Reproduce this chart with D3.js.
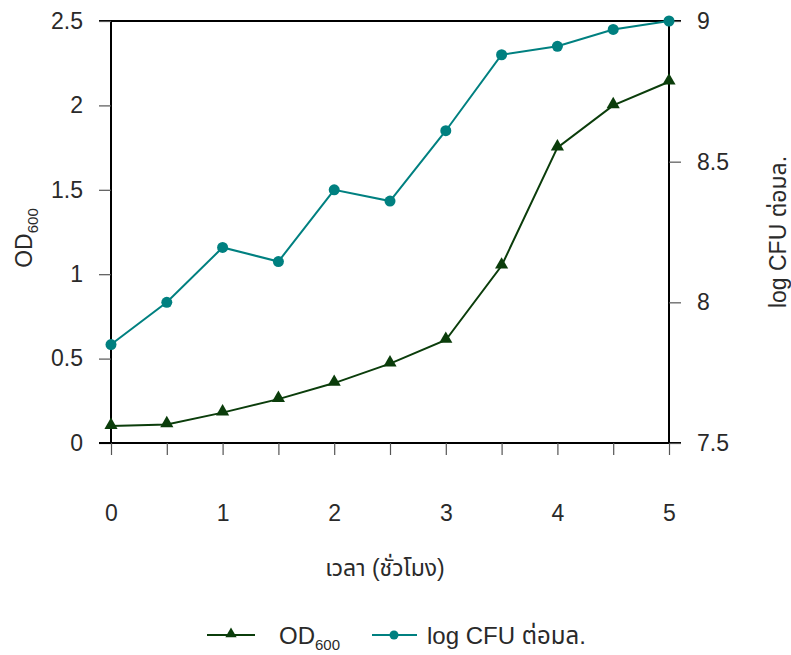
<!DOCTYPE html>
<html>
<head>
<meta charset="utf-8">
<script src="https://cdn.jsdelivr.net/npm/d3@7"></script>
<style>
  html, body { margin: 0; padding: 0; background: #fff; }
  svg text { font-family: "Liberation Sans", Arial, "Noto Sans", "Noto Sans Thai", sans-serif; fill: #2a2a2a; }
</style>
</head>
<body>
<svg id="chart" width="791" height="655"></svg>
<script>
// Data
const hours = [0, 0.5, 1, 1.5, 2, 2.5, 3, 3.5, 4, 4.5, 5];
const od600 = [0.10, 0.11, 0.18, 0.26, 0.355, 0.47, 0.61, 1.05, 1.75, 2.00, 2.14];
const logCFU = [7.85, 8.00, 8.195, 8.145, 8.40, 8.36, 8.61, 8.88, 8.91, 8.97, 9.00];
const xTickLabels = [0, 1, 2, 3, 4, 5];
const leftTicks = [0, 0.5, 1, 1.5, 2, 2.5];
const rightTicks = [7.5, 8, 8.5, 9];

const odColor = "#0b3d0b";
const cfuColor = "#008080";

const svg = d3.select("#chart");
const L = 111, R = 669, T = 21, B = 443;

const x = d3.scaleLinear().domain([0, 5]).range([L, R]);
const yL = d3.scaleLinear().domain([0, 2.5]).range([B, T]);
const yR = d3.scaleLinear().domain([7.5, 9]).range([B, T]);

// frame top
svg.append("line").attr("x1", L).attr("x2", R).attr("y1", T).attr("y2", T)
  .attr("stroke", "#000").attr("stroke-width", 2);

// left axis
const gL = svg.append("g").attr("transform", `translate(${L},0)`)
  .call(d3.axisLeft(yL).tickValues(leftTicks).tickSize(12).tickPadding(16)
    .tickFormat(d => d));
// right axis
const gR = svg.append("g").attr("transform", `translate(${R},0)`)
  .call(d3.axisRight(yR).tickValues(rightTicks).tickSize(12).tickPadding(16)
    .tickFormat(d => d));
// bottom axis
const gB = svg.append("g").attr("transform", `translate(0,${B})`)
  .call(d3.axisBottom(x).tickValues(hours).tickSize(12).tickPadding(50)
    .tickFormat(d => xTickLabels.includes(d) ? d : ""));

[gL, gR, gB].forEach(g => {
  g.attr("font-size", null).attr("font-family", null);
  g.select(".domain").attr("stroke", "#000").attr("stroke-width", 2);
  g.selectAll(".tick line").attr("stroke", "#555").attr("stroke-width", 1.2);
  g.selectAll(".tick text").style("font-size", "23px").style("fill", "#2a2a2a");
});
gL.select(".domain").attr("d", `M-12,${B}H0V${T}H-12`);
gR.select(".domain").attr("d", `M12,${B}H0V${T}H12`);
gB.select(".domain").attr("d", `M${L-12},0H${R}`);

// lines
const lineOD = d3.line().x((d, i) => x(hours[i])).y(d => yL(d));
const lineCFU = d3.line().x((d, i) => x(hours[i])).y(d => yR(d));

svg.append("path").datum(logCFU).attr("d", lineCFU)
  .attr("fill", "none").attr("stroke", cfuColor).attr("stroke-width", 2);
svg.append("path").datum(od600).attr("d", lineOD)
  .attr("fill", "none").attr("stroke", odColor).attr("stroke-width", 2);

const tri = d3.symbol().type(d3.symbolTriangle).size(75);
svg.selectAll(".cfu").data(logCFU).enter().append("circle")
  .attr("cx", (d, i) => x(hours[i])).attr("cy", d => yR(d)).attr("r", 5.5)
  .attr("fill", cfuColor);
svg.selectAll(".od").data(od600).enter().append("path")
  .attr("d", tri).attr("transform", (d, i) => `translate(${x(hours[i])},${yL(d) - 1})`)
  .attr("fill", odColor);

// axis titles
const odTitle = svg.append("text")
  .attr("transform", `translate(32,238) rotate(-90)`)
  .attr("text-anchor", "middle").style("font-size", "23px");
odTitle.append("tspan").text("OD");
odTitle.append("tspan").text("600").style("font-size", "15px").attr("dy", 6);

svg.append("text")
  .attr("transform", `translate(786,232) rotate(-90)`)
  .attr("text-anchor", "middle").style("font-size", "23px")
  .text("log CFU ต่อมล.");

svg.append("text").attr("x", 385).attr("y", 576).attr("text-anchor", "middle")
  .style("font-size", "23px").text("เวลา (ชั่วโมง)");

// legend
const ly = 635;
svg.append("line").attr("x1", 207).attr("x2", 255).attr("y1", ly).attr("y2", ly)
  .attr("stroke", odColor).attr("stroke-width", 2);
svg.append("path").attr("d", d3.symbol().type(d3.symbolTriangle).size(55))
  .attr("transform", `translate(231,${ly - 1})`).attr("fill", odColor);
const lt = svg.append("text").attr("x", 279).attr("y", ly + 9).style("font-size", "24px");
lt.append("tspan").text("OD");
lt.append("tspan").text("600").style("font-size", "15px").attr("dy", 6);

svg.append("line").attr("x1", 372).attr("x2", 417).attr("y1", ly).attr("y2", ly)
  .attr("stroke", cfuColor).attr("stroke-width", 2);
svg.append("circle").attr("cx", 394).attr("cy", ly).attr("r", 4.5).attr("fill", cfuColor);
svg.append("text").attr("x", 427).attr("y", ly + 9).style("font-size", "24px")
  .text("log CFU ต่อมล.");
</script>
</body>
</html>
